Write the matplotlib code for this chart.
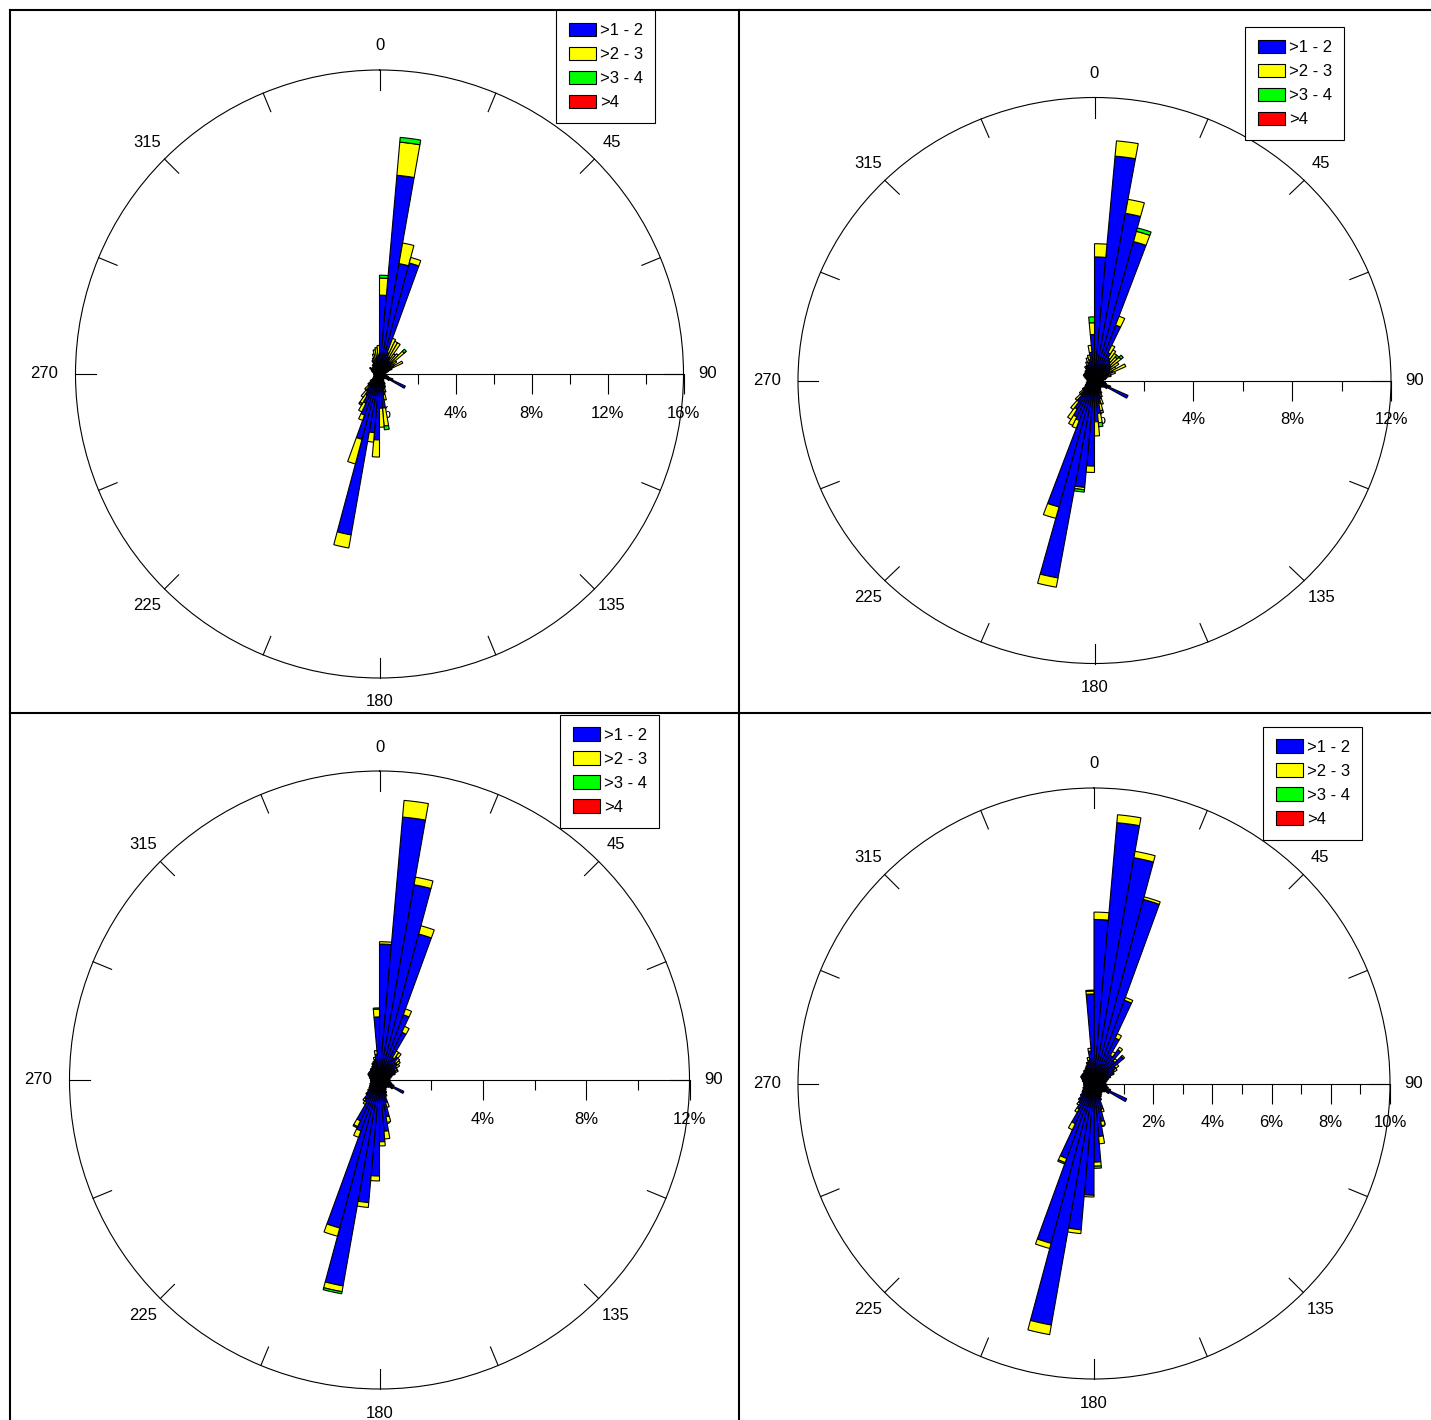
import numpy as np
import matplotlib
matplotlib.use("Agg")
import matplotlib.pyplot as plt
from matplotlib.lines import Line2D
from matplotlib.patches import Patch

plt.rcParams["font.family"] = ["Liberation Sans", "DejaVu Sans"]

W, H = 1431, 1420

# ── data: % frequency per 5-degree direction bin (bin start 0, 5, ... 355) ──
DIRS = list(range(0, 360, 5))
CLASSES = [">1 - 2", ">2 - 3", ">3 - 4", ">4"]
COLORS = ["#0000FF", "#FFFF00", "#00FF00", "#FF0000"]
COMPASS = [0, 45, 90, 135, 180, 225, 270, 315]

# panel 1 (top left)
B1 = [4.15, 10.5, 5.9, 6.05, 1.2, 1.0, 1.0, 0.8, 0.8, 0.9, 0.7, 0.6,
      0.8, 0.5, 0.4, 0.35, 0.3, 0.3, 0.3, 0.35, 0.4, 0.5, 0.7, 1.5,
      0.6, 0.4, 0.35, 0.3, 0.35, 0.4, 0.5, 0.6, 0.8, 1.1, 1.8, 1.8,
      3.47, 3.1, 8.6, 3.56, 2.3, 1.7, 1.3, 1.1, 0.8, 0.6, 0.5, 0.4,
      0.35, 0.3, 0.3, 0.3, 0.3, 0.3, 0.3, 0.3, 0.35, 0.4, 0.45, 0.5,
      0.6, 0.5, 0.5, 0.5, 0.5, 0.5, 0.6, 0.6, 0.7, 0.8, 0.9, 1.0]
Y1 = [0.9, 1.75, 1.1, 0.3, 0.8, 0.9, 0.9, 0.5, 0.6, 0.8, 0.4, 0.3,
      0.55, 0.2, 0.1, 0.05, 0, 0, 0, 0, 0, 0, 0.05, 0,
      0, 0, 0, 0, 0, 0, 0.1, 0.15, 0.2, 0.3, 0.95, 1.0,
      0.9, 0.5, 0.7, 1.34, 0.3, 0.5, 0.5, 0.4, 0.3, 0.2, 0.1, 0,
      0, 0, 0, 0, 0, 0, 0, 0, 0, 0, 0, 0,
      0, 0, 0, 0, 0.1, 0.1, 0.2, 0.3, 0.4, 0.5, 0.5, 0.5]
G1 = [0.15, 0.25, 0, 0, 0, 0, 0, 0, 0, 0.15, 0, 0,
      0, 0, 0, 0, 0, 0, 0, 0, 0, 0, 0, 0,
      0, 0, 0, 0, 0, 0, 0, 0, 0, 0, 0.2, 0,
      0, 0, 0, 0, 0, 0, 0.1, 0, 0, 0, 0, 0,
      0, 0, 0, 0, 0, 0, 0, 0, 0, 0, 0, 0,
      0, 0, 0, 0, 0, 0, 0, 0, 0, 0, 0, 0]

# panel 2 (top right)
B2 = [5.24, 9.55, 7.2, 6.1, 2.5, 1.3, 1.1, 1.0, 0.9, 0.9, 0.8, 0.7,
      0.8, 0.6, 0.5, 0.4, 0.4, 0.35, 0.35, 0.4, 0.45, 0.5, 0.7, 1.5,
      0.6, 0.45, 0.4, 0.35, 0.4, 0.45, 0.5, 0.6, 0.8, 1.0, 1.4, 1.75,
      3.63, 4.55, 8.5, 5.55, 1.8, 1.7, 1.4, 1.1, 0.8, 0.6, 0.5, 0.45,
      0.4, 0.35, 0.35, 0.3, 0.3, 0.3, 0.3, 0.3, 0.35, 0.4, 0.45, 0.5,
      0.5, 0.5, 0.5, 0.55, 0.55, 0.6, 0.6, 0.7, 0.8, 0.9, 1.2, 1.95]
Y2 = [0.56, 0.65, 0.6, 0.45, 0.4, 0.35, 0.4, 0.4, 0.4, 0.5, 0.4, 0.3,
      0.6, 0.3, 0.2, 0.1, 0.05, 0, 0, 0, 0, 0, 0, 0,
      0, 0, 0, 0, 0, 0, 0.1, 0.15, 0.25, 0.3, 0.4, 0.6,
      0.27, 0.1, 0.4, 0.5, 0.35, 0.4, 0.5, 0.4, 0.3, 0.2, 0.1, 0,
      0, 0, 0, 0, 0, 0, 0, 0, 0, 0, 0, 0,
      0, 0, 0, 0, 0, 0.1, 0.1, 0.15, 0.2, 0.2, 0.3, 0.5]
G2 = [0, 0, 0, 0.15, 0, 0, 0, 0, 0.1, 0.12, 0, 0,
      0, 0, 0, 0, 0, 0, 0, 0, 0, 0, 0, 0,
      0, 0, 0, 0, 0, 0, 0, 0, 0, 0.1, 0.17, 0,
      0, 0.1, 0, 0, 0, 0, 0, 0, 0, 0, 0, 0,
      0, 0, 0, 0, 0, 0, 0, 0, 0, 0, 0, 0,
      0, 0, 0, 0, 0, 0, 0, 0, 0, 0, 0, 0.25]

# panel 3 (bottom left)
B3 = [5.28, 10.25, 7.7, 5.87, 2.7, 2.05, 1.0, 1.1, 0.9, 0.9, 0.8, 0.7,
      0.7, 0.6, 0.5, 0.45, 0.4, 0.4, 0.4, 0.4, 0.45, 0.5, 0.6, 1.04,
      0.6, 0.45, 0.4, 0.4, 0.4, 0.45, 0.5, 0.6, 0.9, 1.45, 2.0, 2.4,
      3.73, 4.78, 8.12, 5.95, 2.1, 1.75, 1.0, 0.9, 0.7, 0.6, 0.5, 0.45,
      0.4, 0.4, 0.35, 0.35, 0.35, 0.35, 0.35, 0.35, 0.4, 0.4, 0.45, 0.5,
      0.5, 0.5, 0.5, 0.5, 0.55, 0.55, 0.6, 0.65, 0.7, 0.8, 1.0, 2.45]
Y3 = [0.09, 0.65, 0.3, 0.33, 0.24, 0.25, 0.3, 0.2, 0.2, 0.15, 0.15, 0.1,
      0.1, 0.05, 0, 0, 0, 0, 0, 0, 0, 0, 0, 0,
      0, 0, 0, 0, 0, 0, 0.05, 0.08, 0.2, 0.22, 0.3, 0.16,
      0.19, 0.19, 0.23, 0.33, 0.27, 0.25, 0.1, 0.1, 0.05, 0, 0, 0,
      0, 0, 0, 0, 0, 0, 0, 0, 0, 0, 0, 0,
      0, 0, 0, 0, 0, 0, 0, 0.05, 0.05, 0.1, 0.15, 0.3]
G3 = [0, 0, 0, 0, 0, 0, 0, 0, 0, 0, 0, 0,
      0, 0, 0, 0, 0, 0, 0, 0, 0, 0, 0, 0,
      0, 0, 0, 0, 0, 0, 0, 0, 0, 0, 0, 0,
      0, 0, 0.08, 0, 0, 0.05, 0, 0, 0, 0, 0, 0,
      0, 0, 0, 0, 0, 0, 0, 0, 0, 0, 0, 0,
      0, 0, 0, 0, 0, 0, 0, 0, 0, 0, 0, 0.05]

# panel 4 (bottom right)
B4 = [5.55, 8.86, 7.76, 6.45, 3.0, 1.7, 1.1, 1.4, 1.0, 1.3, 0.9, 0.8,
      0.7, 0.6, 0.5, 0.45, 0.4, 0.4, 0.4, 0.4, 0.45, 0.5, 0.6, 1.22,
      0.6, 0.45, 0.4, 0.4, 0.4, 0.45, 0.5, 0.6, 0.9, 1.3, 1.8, 2.66,
      3.78, 4.97, 8.3, 5.6, 2.7, 1.5, 1.0, 0.8, 0.7, 0.6, 0.5, 0.45,
      0.4, 0.4, 0.35, 0.35, 0.35, 0.35, 0.35, 0.35, 0.4, 0.4, 0.45, 0.5,
      0.5, 0.5, 0.5, 0.5, 0.55, 0.55, 0.6, 0.65, 0.7, 0.8, 1.1, 3.03]
Y4 = [0.25, 0.27, 0.22, 0.09, 0.1, 0.16, 0.15, 0.1, 0.1, 0.05, 0.12, 0.1,
      0.05, 0, 0, 0, 0, 0, 0, 0, 0, 0, 0, 0,
      0, 0, 0, 0, 0, 0, 0, 0, 0.1, 0.15, 0.25, 0.14,
      0.06, 0.13, 0.33, 0.18, 0.15, 0.23, 0.13, 0.1, 0.05, 0, 0, 0,
      0, 0, 0, 0, 0, 0, 0, 0, 0, 0, 0, 0,
      0, 0, 0, 0, 0, 0, 0, 0, 0.05, 0.1, 0.1, 0.1]
G4 = [0, 0, 0, 0, 0, 0, 0, 0, 0, 0, 0, 0,
      0, 0, 0, 0, 0, 0, 0, 0, 0, 0, 0, 0,
      0, 0, 0, 0, 0, 0, 0, 0, 0, 0, 0, 0.07,
      0, 0, 0, 0, 0.05, 0, 0, 0, 0, 0, 0, 0,
      0, 0, 0, 0, 0, 0, 0, 0, 0, 0, 0, 0,
      0, 0, 0, 0, 0, 0, 0, 0, 0, 0, 0, 0.03]

# no >4 observations in any panel
R0 = [0] * 72

# ── layout (pixels) ──
PANELS = [
    dict(data=(B1, Y1, G1, R0), cx=379.5, cy=374, rx=304, ry=304,
         rmax=16, major=4, minor=2, legend=(556, 10)),
    dict(data=(B2, Y2, G2, R0), cx=1094.5, cy=380.5, rx=296.5, ry=283,
         rmax=12, major=4, minor=2, legend=(1245, 27)),
    dict(data=(B3, Y3, G3, R0), cx=379.5, cy=1080, rx=310, ry=309,
         rmax=12, major=4, minor=2, legend=(560, 715)),
    dict(data=(B4, Y4, G4, R0), cx=1094, cy=1083.5, rx=296, ry=295.5,
         rmax=10, major=2, minor=1, legend=(1263, 727)),
]

PX = 72 / 100  # points per pixel at dpi 100
FS = 12


def draw_rose(fig, p):
    ax = fig.add_axes([(p["cx"] - p["rx"]) / W, (H - p["cy"] - p["ry"]) / H,
                       2 * p["rx"] / W, 2 * p["ry"] / H], projection="polar")
    ax.set_aspect("auto")
    ax.set_theta_zero_location("N")
    ax.set_theta_direction(-1)
    ax.grid(False)
    ax.set_ylim(0, p["rmax"])
    ax.set_yticks([])
    ax.set_xticks([])
    ax.spines["polar"].set_linewidth(0.8)

    # compass ticks every 22.5 deg, 20 px inward from the rim
    for ang in np.arange(0, 360, 22.5):
        t = np.deg2rad(ang)
        rpx = np.hypot(p["rx"] * np.sin(t), p["ry"] * np.cos(t))
        ax.plot([t, t], [p["rmax"] * (1 - 20 / rpx), p["rmax"]],
                color="black", lw=0.8, zorder=2, clip_on=False)
    for ang in COMPASS:
        d = 31 if ang == 270 else 24
        t = np.deg2rad(ang)
        ax.annotate(str(ang), xy=(t, p["rmax"]),
                    xytext=(d * np.sin(t), d * np.cos(t)),
                    textcoords="offset pixels", ha="center", va="center",
                    fontsize=FS, annotation_clip=False)

    # radial scale along the 90 deg line
    east = np.pi / 2
    ax.plot([east, east], [0, p["rmax"]], color="black", lw=0.8, zorder=2)
    rs = np.arange(p["minor"], p["rmax"] + 0.01, p["minor"])
    majors = [r for r in rs if abs(r / p["major"] - round(r / p["major"])) < 1e-6]
    for r in rs:
        ax.plot(east, r, marker=3, ms=(20 if r in majors else 10) * PX,
                mew=0.8, color="black", zorder=2, clip_on=False)
    for r in [0] + majors:
        ax.annotate(f"{int(r)}%", xy=(east, r), xytext=(0, -39),
                    textcoords="offset pixels", ha="center", va="center",
                    fontsize=FS, zorder=1, annotation_clip=False)

    # stacked bars
    theta = np.deg2rad(DIRS)
    width = np.deg2rad(5)
    bottom = np.zeros(len(DIRS))
    for vals, col in zip(p["data"], COLORS):
        v = np.asarray(vals, dtype=float)
        m = v > 0
        if m.any():
            ax.bar(theta[m], v[m], width=width, bottom=bottom[m], align="edge",
                   color=col, edgecolor="black", linewidth=0.8, zorder=3)
        bottom += v

    handles = [Patch(facecolor=c, edgecolor="black", linewidth=0.8) for c in COLORS]
    lx, ly = p["legend"]
    leg = fig.legend(handles, CLASSES, loc="upper left",
                     bbox_to_anchor=(lx / W, 1 - ly / H),
                     bbox_transform=fig.transFigure, frameon=True,
                     fancybox=False, edgecolor="black", framealpha=1,
                     fontsize=FS, handlelength=1.62, handleheight=0.9,
                     handletextpad=0.25, labelspacing=0.5, borderpad=0.75,
                     borderaxespad=0)
    leg.get_frame().set_linewidth(0.8)
    return ax


fig = plt.figure(figsize=(W / 100, H / 100), dpi=100)
for p in PANELS:
    draw_rose(fig, p)

# panel frame lines
frame = dict(transform=fig.transFigure, color="black", lw=1.5)
fig.add_artist(Line2D([10 / W, 10 / W], [0, 1 - 10 / H], **frame))
fig.add_artist(Line2D([739 / W, 739 / W], [0, 1 - 10 / H], **frame))
fig.add_artist(Line2D([10 / W, 1], [1 - 10 / H, 1 - 10 / H], **frame))
fig.add_artist(Line2D([10 / W, 1], [1 - 713 / H, 1 - 713 / H], **frame))

fig.savefig("out.png", dpi=100)
